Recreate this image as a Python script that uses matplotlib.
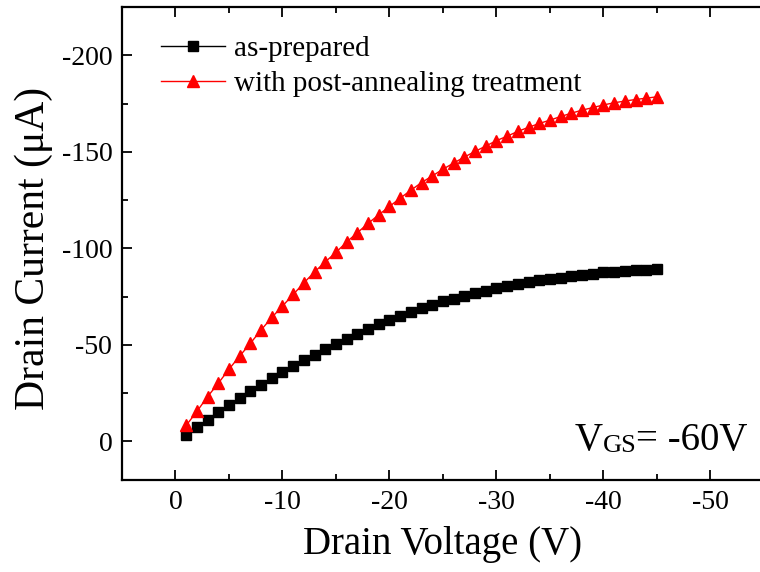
import numpy as np
import matplotlib
matplotlib.use('Agg')
import matplotlib.pyplot as plt
from matplotlib.ticker import MultipleLocator

plt.rcParams['font.family'] = ['Liberation Serif', 'DejaVu Serif']
plt.rcParams['axes.unicode_minus'] = False

# drain voltage sweep (V) and drain current (uA), both negative
vds = [-1, -2, -3, -4, -5, -6, -7, -8, -9, -10,
       -11, -12, -13, -14, -15, -16, -17, -18, -19, -20,
       -21, -22, -23, -24, -25, -26, -27, -28, -29, -30,
       -31, -32, -33, -34, -35, -36, -37, -38, -39, -40,
       -41, -42, -43, -44, -45]

id_prepared = [-3.5, -7.6, -11.2, -15.2, -18.9, -22.4, -26.0, -29.4, -32.9, -36.0,
               -39.2, -42.2, -44.9, -48.0, -50.6, -53.2, -55.8, -58.2, -60.6, -62.8,
               -64.9, -67.0, -68.9, -70.6, -72.5, -73.9, -75.2, -76.9, -78.0, -79.4,
               -80.5, -81.5, -82.6, -83.5, -84.2, -84.9, -85.5, -86.2, -86.9, -87.5,
               -88.0, -88.3, -88.6, -89.0, -89.2]

id_annealed = [-8.3, -15.5, -23.2, -30.1, -37.4, -44.2, -50.8, -57.7, -64.2, -70.1,
               -76.1, -82.1, -87.8, -93.0, -97.9, -103.3, -108.1, -112.9, -117.4, -121.7,
               -126.0, -130.1, -134.1, -137.5, -141.0, -144.2, -147.3, -150.2, -153.0, -155.8,
               -158.1, -160.6, -162.7, -164.7, -166.4, -168.3, -170.0, -171.6, -172.9, -174.3,
               -175.4, -176.3, -177.1, -177.8, -178.5]

fig = plt.figure(figsize=(7.6, 5.72), dpi=100)
ax = fig.add_axes([0.1605, 0.1608, 0.8447, 0.8269])

ax.plot(vds, id_prepared, color='black', lw=1.0, marker='s', ms=6.8,
        mec='black', mfc='black', label='as-prepared')
ax.plot(vds, id_annealed, color='red', lw=1.0, marker='^', ms=8.2,
        mec='red', mfc='red', label='with post-annealing treatment')

# Origin style: both axes run towards negative values
ax.set_xlim(5, -55)
ax.set_ylim(20, -225)
ax.xaxis.set_major_locator(MultipleLocator(10))
ax.xaxis.set_minor_locator(MultipleLocator(5))
ax.yaxis.set_major_locator(MultipleLocator(50))
ax.yaxis.set_minor_locator(MultipleLocator(25))

ax.tick_params(which='both', direction='in', top=True, right=False,
               width=1.3, labelsize=20, pad=7)
ax.tick_params(which='major', length=7)
ax.tick_params(which='minor', length=4)
for sp in ax.spines.values():
    sp.set_linewidth(1.6)
ax.spines['right'].set_visible(False)

ax.set_xlabel('Drain Voltage (V)', fontsize=28)
ax.set_ylabel('Drain Current (\u03bcA)', fontsize=30)
ax.xaxis.set_label_coords(0.5, -0.098)
ax.yaxis.set_label_coords(-0.108, 0.49)

ax.legend(loc='upper left', bbox_to_anchor=(0.02, 0.995), frameon=False,
          fontsize=21, handlelength=2.2, handletextpad=0.3, labelspacing=0.3)

# gate bias note, with "GS" set smaller on the same line
t1 = ax.text(0.705, 0.045, 'V', transform=ax.transAxes, fontsize=28, va='bottom')
t2 = ax.annotate('GS', xy=(1, 0), xycoords=t1, fontsize=19, va='bottom',
                 xytext=(0, 1.5), textcoords='offset points')
t3 = ax.annotate('= -60V', xy=(1, 0), xycoords=t2, fontsize=28, va='bottom',
                 xytext=(0, -1.5), textcoords='offset points')

fig.savefig('out.png', dpi=100)
